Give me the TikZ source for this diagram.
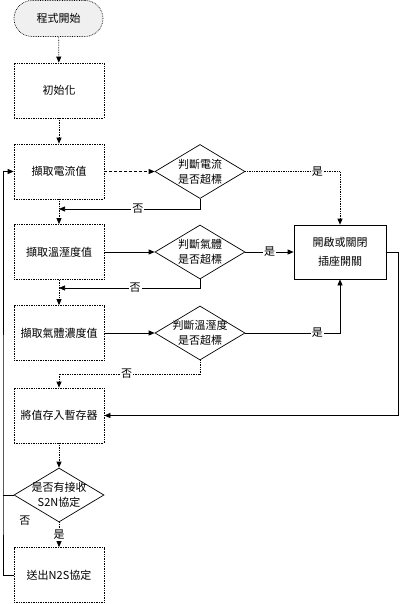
\documentclass[tikz,border=0pt]{standalone}
\usepackage{fontspec}
\newfontfamily\cjk{Noto Sans CJK TC}
\usetikzlibrary{arrows.meta,shapes.geometric}

\begin{document}
\begin{tikzpicture}[x=1pt,y=-1pt,line width=0.7pt,
	>={Triangle[length=6pt,width=5pt]},
	every node/.style={font=\cjk\fontsize{11}{15}\selectfont,align=center},
	proc/.style={draw,densely dotted,minimum width=90pt,minimum height=55pt,inner sep=1pt},
	decide/.style={draw,solid,diamond,aspect=1.67,minimum width=90pt,minimum height=54pt,inner sep=-8pt},
	lbl/.style={fill=white,inner sep=1pt}]
	\useasboundingbox (0,0) rectangle (400,604);
	\node[draw,densely dotted,fill=gray!12,rounded corners=18pt,minimum width=89pt,minimum height=36pt] (start) at (58.5,18.5) {程式開始};
	\node[proc] (init) at (59,90.5) {初始化};
	\node[proc] (cur) at (59,171.5) {擷取電流值};
	\node[decide] (d1) at (200,171.5) {判斷電流\\是否超標};
	\node[proc] (th) at (59,252) {擷取溫溼度值};
	\node[decide] (d2) at (200,252) {判斷氣體\\是否超標};
	\node[draw,solid,minimum width=92pt,minimum height=54pt] (sw) at (340,252) {開啟或關閉\\[4pt]插座開關};
	\node[proc] (gas) at (59,333) {擷取氣體濃度值};
	\node[decide] (d3) at (200,333) {判斷溫溼度\\是否超標};
	\node[proc] (store) at (59,415.5) {將值存入暫存器};
	\node[decide] (d4) at (59,495) {是否有接收\\S2N協定};
	\node[proc] (send) at (59,575) {送出N2S協定};
	\coordinate (j1) at (59,209);
	\coordinate (j2) at (59,288);
	\coordinate (j3) at (59,374);
	\coordinate (loop) at (3,495);

	\draw[->,densely dotted] (start) -- (init);
	\draw[->,densely dotted] (init) -- (cur);
	\draw[->,densely dashed] (cur) -- (d1);
	\draw[->,densely dotted] (d1.east) -| node[pos=0.38,lbl]{是} (sw.north);
	\draw[->] (d1.south) |- node[pos=0.72,lbl]{否} (j1);
	\draw[->,densely dotted] (cur) -- (th);
	\draw[->] (th) -- (d2);
	\draw[->] (d2) -- node[lbl]{是} (sw);
	\draw[->] (d2.south) |- node[pos=0.73,lbl]{否} (j2);
	\draw[->,densely dotted] (th) -- (gas);
	\draw[->] (gas) -- (d3);
	\draw[->] (d3.east) -| node[pos=0.38,lbl]{是} (sw.south);
	\draw[->,densely dotted] (d3.south) |- node[pos=0.76,lbl]{否} (j3) -- (store);
	\draw[->] (sw.east) -- ++(12,0) |- (store.east);
	\draw[->,densely dotted] (store) -- (d4);
	\draw[->,densely dotted] (d4) -- node[lbl]{是} (send);
	\draw (d4.west) -- (loop);
	\draw[->] (send.west) -| (loop) |- (cur.west);
	\node (no) at (25,521) {否};
\end{tikzpicture}
\end{document}
